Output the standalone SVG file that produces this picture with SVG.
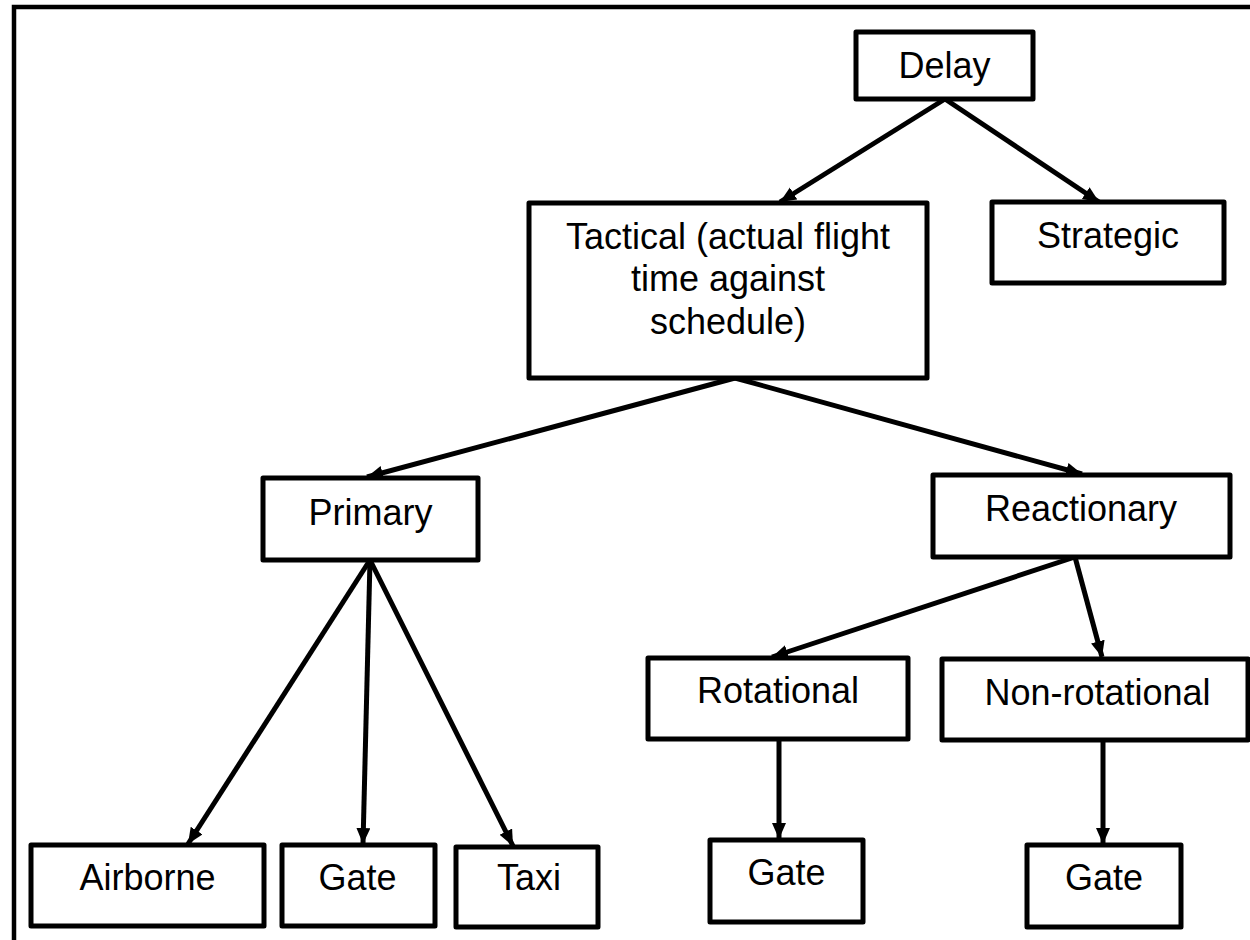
<svg xmlns="http://www.w3.org/2000/svg" width="1250" height="940" viewBox="0 0 1250 940">
<style>
.box{fill:#fff;stroke:#000;stroke-width:5;stroke-linejoin:round}
.lbl{font-family:"Liberation Sans",Arial,sans-serif;font-size:36px;fill:#000;text-anchor:middle}
.con{stroke:#000;stroke-width:5;fill:none;marker-end:url(#ah)}
</style>
<defs>
<marker id="ah" markerUnits="userSpaceOnUse" markerWidth="17" markerHeight="15" refX="16" refY="7" orient="auto">
<path d="M0,0 L16,7 L0,14 Z" fill="#000"/>
</marker>
</defs>
<rect width="1250" height="940" fill="#fff"/>
<rect id="frame" x="14" y="7" width="1260" height="960" fill="none" stroke="#000" stroke-width="4.5"/>
<g id="connectors">
<line class="con" x1="945" y1="99" x2="780" y2="202"/>
<line class="con" x1="945" y1="99" x2="1099" y2="202"/>
<line class="con" x1="735" y1="378" x2="367" y2="477"/>
<line class="con" x1="735" y1="378" x2="1082" y2="474"/>
<line class="con" x1="1075" y1="557" x2="772" y2="657"/>
<line class="con" x1="1075" y1="557" x2="1102" y2="657"/>
<line class="con" x1="370" y1="560" x2="188" y2="844"/>
<line class="con" x1="370" y1="560" x2="363" y2="844"/>
<line class="con" x1="370" y1="560" x2="513" y2="846"/>
<line class="con" x1="779" y1="739" x2="779" y2="839"/>
<line class="con" x1="1103" y1="740" x2="1103" y2="844"/>
</g>
<g id="delay"><rect class="box" x="856" y="32" width="177" height="67"/><text class="lbl" x="944.5" y="78">Delay</text></g>
<g id="strategic"><rect class="box" x="992" y="202" width="232" height="81"/><text class="lbl" x="1108" y="248">Strategic</text></g>
<g id="tactical"><rect class="box" x="529" y="203" width="398" height="175"/><text class="lbl" x="728" y="249">Tactical (actual flight</text><text class="lbl" x="728" y="291">time against</text><text class="lbl" x="728" y="334">schedule)</text></g>
<g id="primary"><rect class="box" x="263" y="478" width="215" height="82"/><text class="lbl" x="370.5" y="525">Primary</text></g>
<g id="reactionary"><rect class="box" x="933" y="475" width="297" height="82"/><text class="lbl" x="1081" y="521">Reactionary</text></g>
<g id="rotational"><rect class="box" x="648" y="658" width="260" height="81"/><text class="lbl" x="778" y="703">Rotational</text></g>
<g id="non-rotational"><rect class="box" x="942" y="659" width="306" height="81"/><text class="lbl" x="1097.5" y="705">Non-rotational</text></g>
<g id="airborne"><rect class="box" x="31" y="845" width="233" height="81"/><text class="lbl" x="147.5" y="890">Airborne</text></g>
<g id="gate-primary"><rect class="box" x="282" y="845" width="153" height="81"/><text class="lbl" x="357.5" y="890">Gate</text></g>
<g id="taxi"><rect class="box" x="456" y="847" width="142" height="80"/><text class="lbl" x="529" y="890">Taxi</text></g>
<g id="gate-rotational"><rect class="box" x="710" y="840" width="153" height="82"/><text class="lbl" x="786.5" y="885">Gate</text></g>
<g id="gate-nonrotational"><rect class="box" x="1027" y="845" width="154" height="82"/><text class="lbl" x="1104" y="890">Gate</text></g>
</svg>
